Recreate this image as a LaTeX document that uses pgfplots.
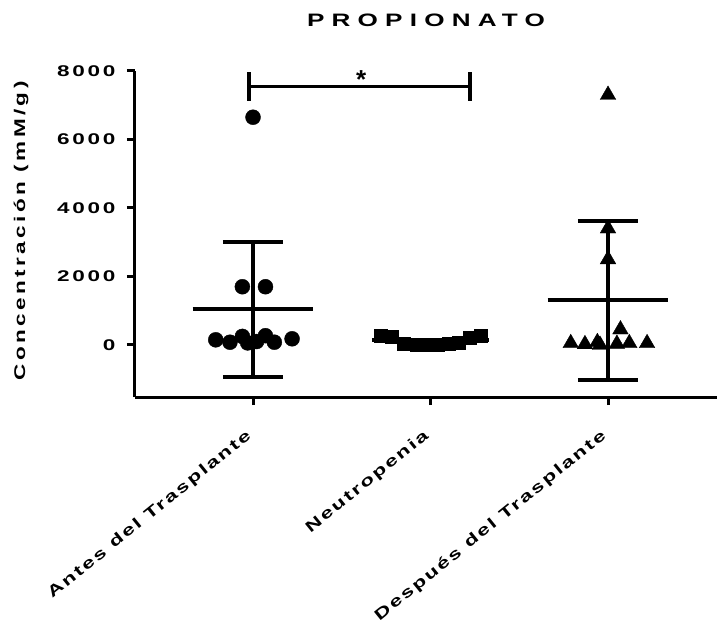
\documentclass[border=0pt]{standalone}
\usepackage{pgfplots}
\pgfplotsset{compat=1.18}
\usepackage{fontspec}
\setmainfont{Liberation Sans}
\newfontfamily\tickf{Liberation Sans}[FakeStretch=1.45, LetterSpace=18]
\newfontfamily\xlabf{Liberation Sans}[FakeStretch=1.45, LetterSpace=14]
\newfontfamily\ylabf{Liberation Sans}[FakeStretch=1.45, LetterSpace=22]
\newfontfamily\tspaced{Liberation Sans}[FakeStretch=1.45, LetterSpace=40]
\begin{document}
\begin{tikzpicture}
\begin{axis}[
  scale only axis,
  width=582pt, height=326pt,
  xmin=-0.665, xmax=2.614,
  ymin=-1520, ymax=8000,
  axis x line*=bottom, axis y line*=left,
  axis line style={line width=3pt, -},
  xtick={0,1,2},
  xticklabels={Antes del Trasplante, Neutropenia, Después del Trasplante},
  ytick={0,2000,4000,6000,8000},
  /pgf/number format/fixed,
  /pgf/number format/1000 sep={},
  /pgf/number format/assume math mode=true,
  tick align=outside,
  major tick length=8pt,
  tick style={line width=3pt, black},
  y tick label style={font=\tickf\bfseries\fontsize{15.5}{18}\selectfont, xshift=-8pt},
  x tick label style={font=\xlabf\bfseries\fontsize{15.5}{18}\selectfont, xshift=-1pt, yshift=-27pt, rotate=39, anchor=east},
  ylabel={Concentración (mM/g)},
  ylabel style={font=\ylabf\bfseries\fontsize{15.5}{18}\selectfont, at={([xshift=-114pt]axis description cs:0,0.51)}, anchor=center},
  clip=false,
]
\coordinate (sw) at (rel axis cs:0,0);
% Group 1: Antes del Trasplante
\addplot[only marks, mark=*, mark size=7.5pt, black] coordinates {
  (0,6650) (-0.06,1700) (0.07,1700)
  (-0.21,150) (-0.13,80) (-0.06,250) (-0.03,60) (0.02,100) (0.07,270) (0.12,80) (0.22,180)
};
\addplot[line width=4pt, black] coordinates {(-0.34,1050) (0.34,1050)};
\addplot[line width=4pt, black] coordinates {(0,-935) (0,3000)};
\addplot[line width=4pt, black] coordinates {(-0.17,3000) (0.17,3000)};
\addplot[line width=4pt, black] coordinates {(-0.17,-935) (0.17,-935)};
% Group 2: Neutropenia
\addplot[line width=4pt, black] coordinates {(0.67,146) (1.33,146)};
\addplot[only marks, mark=square*, mark size=6.5pt, black] coordinates {
  (0.72,280) (0.78,250) (0.85,50) (0.92,20) (0.98,0) (1.04,10) (1.10,30) (1.16,80) (1.22,200) (1.28,280)
};
% Group 3: Después del Trasplante
\addplot[only marks, mark=triangle*, mark size=9pt, black] coordinates {
  (2,7300) (2,3400) (2,2500) (2.07,450)
  (1.79,50) (1.87,20) (1.94,80) (1.955,0) (2.05,30) (2.12,50) (2.22,50)
};
\addplot[line width=4pt, black] coordinates {(1.66,1310) (2.34,1310)};
\addplot[line width=4pt, black] coordinates {(2,-1020) (2,3620)};
\addplot[line width=4pt, black] coordinates {(1.83,3620) (2.17,3620)};
\addplot[line width=4pt, black] coordinates {(1.83,-1020) (2.17,-1020)};
% significance bracket
\addplot[line width=3pt, black] coordinates {(-0.02,7533) (1.225,7533)};
\addplot[line width=4pt, black] coordinates {(-0.02,7970) (-0.02,7124)};
\addplot[line width=4pt, black] coordinates {(1.225,7970) (1.225,7124)};
\node[font=\bfseries\fontsize{26}{26}\selectfont] at (axis cs:0.61,7760) {*};
\node[font=\tspaced\bfseries\fontsize{18}{20}\selectfont, anchor=base] at ([yshift=44pt]rel axis cs:0.5,1) {PROPIONATO};
\end{axis}
\pgfresetboundingbox
\path (sw) ++(-135pt,-232pt) rectangle ++(717pt,629pt);
\end{tikzpicture}
\end{document}
